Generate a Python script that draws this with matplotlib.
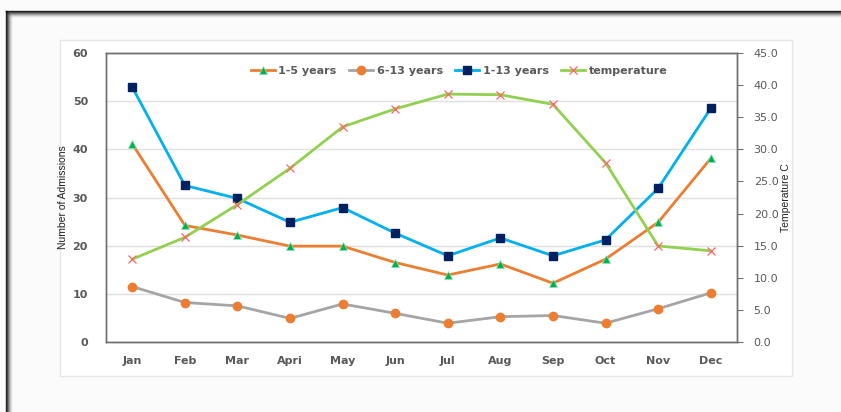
import numpy as np
import matplotlib.pyplot as plt
from matplotlib.lines import Line2D
from matplotlib.patches import Rectangle

months = ['Jan', 'Feb', 'Mar', 'Apri', 'May', 'Jun', 'Jul', 'Aug', 'Sep', 'Oct', 'Nov', 'Dec']
age_1_5 = [41.1, 24.2, 22.2, 19.9, 19.9, 16.5, 13.9, 16.2, 12.2, 17.2, 24.85, 38.1]
age_6_13 = [11.5, 8.2, 7.5, 4.9, 7.9, 5.95, 3.9, 5.25, 5.5, 3.9, 6.9, 10.2]
age_1_13 = [52.9, 32.5, 29.8, 24.85, 27.9, 22.6, 17.9, 21.6, 17.9, 21.2, 31.9, 48.5]
temperature = [12.9, 16.3, 21.4, 27.05, 33.5, 36.3, 38.6, 38.5, 37.0, 27.9, 14.95, 14.2]

W, H = 841, 412
fig = plt.figure(figsize=(W / 100, H / 100), dpi=100)
fig.patch.set_facecolor('#fbfbfb')

# outer frame with a soft shadow (top and left)
for i in range(7):
    a = 0.85 * (1 - i / 7) ** 2
    fig.add_artist(Line2D([(6 + i) / W, 1], [1 - (11 + i) / H] * 2, color='k', alpha=a, lw=1))
    fig.add_artist(Line2D([(6 + i) / W] * 2, [0, 1 - (11 + i) / H], color='k', alpha=a, lw=1))
# chart area
fig.add_artist(Rectangle((60 / W, 1 - 376 / H), (792 - 60) / W, (376 - 40) / H,
                         facecolor='white', edgecolor='#e6e6e6', lw=1, zorder=0))

ax = fig.add_axes([106 / W, 1 - 342 / H, (737 - 106) / W, (342 - 53) / H])
ax2 = ax.twinx()
x = np.arange(len(months))

l1, = ax.plot(x, age_1_5, color='#ED7D31', lw=2, marker='^', ms=6,
              mfc='#00B050', mec='#8FE3B0', mew=0.5, label='1-5 years')
l2, = ax.plot(x, age_6_13, color='#A5A5A5', lw=2, marker='o', ms=6,
              mfc='#ED7D31', mec='#ED7D31', label='6-13 years')
l3, = ax.plot(x, age_1_13, color='#00B0F0', lw=2, marker='s', ms=6,
              mfc='#002060', mec='#002060', label='1-13 years')
l4, = ax2.plot(x, temperature, color='#92D050', lw=2, marker='x', ms=6,
               mec='#FF6666', mew=0.9, label='temperature')

ax.set_xlim(-0.5, 11.5)
ax.set_ylim(0, 60)
ax.set_yticks(range(0, 61, 10))
ax2.set_ylim(0, 45)
ax2.set_yticks(np.arange(0, 46, 5))
ax2.set_yticklabels(['%.1f' % v for v in np.arange(0, 46, 5)])
ax.set_xticks(x)
ax.set_xticklabels(months)

ax.grid(axis='y', color='#e0e0e0', lw=1)
ax.set_axisbelow(True)
for a in (ax, ax2):
    for s in a.spines.values():
        s.set_color('#6e6e6e')
        s.set_linewidth(1)

ax.tick_params(axis='both', length=0, labelsize=8, labelcolor='#595959', pad=10)
for t in ax.get_xticklabels() + ax.get_yticklabels():
    t.set_fontweight('bold')
ax.tick_params(axis='y', pad=13)
ax2.tick_params(axis='y', length=4, direction='out', color='#6e6e6e',
                labelsize=8, labelcolor='#595959', pad=8)

narrow = ['Liberation Sans Narrow', 'DejaVu Sans Condensed', 'Liberation Sans']
ax.set_ylabel('Number of Admissions', family=narrow, fontsize=7.5,
              color='#222222', labelpad=3)
ax2.set_ylabel('Temperature C', family=narrow, fontsize=7.5,
               color='#222222', labelpad=2)

leg = fig.legend(handles=[l1, l2, l3, l4], loc='center', ncol=4,
                 bbox_to_anchor=(459 / W, 1 - 71 / H), frameon=False,
                 prop={'size': 8, 'weight': 'bold'}, handlelength=2.2,
                 handletextpad=0.3, columnspacing=1.1)
for t in leg.get_texts():
    t.set_color('#595959')

fig.savefig('out.png', dpi=100, facecolor=fig.get_facecolor())
